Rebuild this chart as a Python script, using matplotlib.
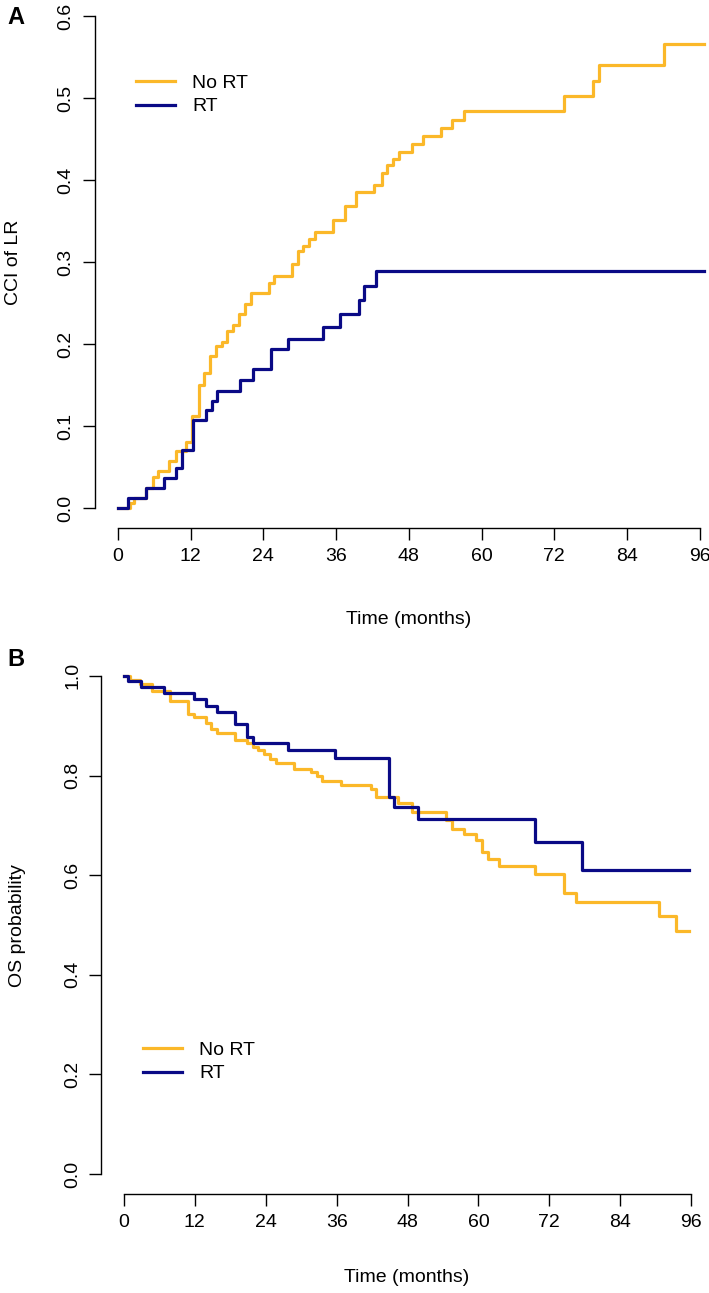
import numpy as np
import matplotlib
matplotlib.use("Agg")
import matplotlib.pyplot as plt

plt.rcParams['font.family'] = ['Liberation Sans', 'DejaVu Sans']

# panel A: cumulative incidence of local recurrence
a_nort_t = [0, 2.0, 2.7, 4.6, 5.7, 6.6, 8.5, 9.5, 11.3, 12.2, 13.3, 14.2, 15.2, 16.2,
            17.2, 18.0, 19.0, 19.9, 20.9, 21.9, 24.9, 25.8, 28.7, 29.7, 30.6, 31.5,
            32.5, 35.5, 37.4, 39.2, 42.2, 43.5, 44.4, 45.4, 46.4, 48.5, 50.3, 53.3,
            55.2, 57.1, 73.6, 78.4, 79.4, 90.1, 96.7]
a_nort_v = [0, 0.006, 0.012, 0.024, 0.038, 0.045, 0.057, 0.069, 0.081, 0.112, 0.150,
            0.165, 0.185, 0.197, 0.203, 0.216, 0.223, 0.236, 0.249, 0.262, 0.275,
            0.283, 0.297, 0.313, 0.320, 0.328, 0.336, 0.351, 0.368, 0.385, 0.394,
            0.408, 0.418, 0.426, 0.434, 0.444, 0.454, 0.463, 0.473, 0.484, 0.502,
            0.521, 0.540, 0.566, 0.566]
a_rt_t = [0, 1.7, 4.6, 7.6, 9.6, 10.5, 12.4, 14.5, 15.5, 16.4, 20.2, 22.2, 25.2,
          28.1, 33.8, 36.7, 39.7, 40.6, 42.6, 96.7]
a_rt_v = [0, 0.012, 0.024, 0.036, 0.049, 0.071, 0.107, 0.119, 0.131, 0.143, 0.156,
          0.169, 0.194, 0.206, 0.221, 0.236, 0.254, 0.271, 0.289, 0.289]

# panel B: overall survival
b_nort_t = [0, 1.0, 2.7, 4.7, 7.8, 10.9, 11.9, 13.9, 14.8, 15.8, 18.8, 20.8, 21.8,
            22.7, 23.7, 24.7, 25.7, 28.7, 31.6, 32.6, 33.6, 36.7, 41.8, 42.7, 46.4,
            48.7, 54.6, 55.5, 57.5, 59.6, 60.6, 61.6, 63.5, 69.6, 74.5, 76.5, 90.5,
            93.5, 95.7]
b_nort_v = [1.0, 0.991, 0.983, 0.970, 0.949, 0.923, 0.917, 0.905, 0.893, 0.885, 0.871,
            0.865, 0.858, 0.851, 0.843, 0.833, 0.825, 0.813, 0.807, 0.800, 0.790,
            0.782, 0.773, 0.757, 0.745, 0.727, 0.710, 0.693, 0.683, 0.670, 0.647,
            0.632, 0.618, 0.602, 0.565, 0.547, 0.518, 0.488, 0.488]
b_rt_t = [0, 0.7, 2.8, 6.8, 11.9, 13.9, 15.8, 18.8, 20.8, 21.8, 27.8, 35.8, 44.8,
          45.7, 49.7, 69.6, 77.6, 95.7]
b_rt_v = [1.0, 0.989, 0.977, 0.965, 0.953, 0.940, 0.928, 0.903, 0.877, 0.865, 0.851,
          0.835, 0.757, 0.737, 0.713, 0.667, 0.611, 0.611]

x_ticks = [0, 12, 24, 36, 48, 60, 72, 84, 96]
a_yticks = [0.0, 0.1, 0.2, 0.3, 0.4, 0.5, 0.6]
b_yticks = [0.0, 0.2, 0.4, 0.6, 0.8, 1.0]
labels = ['No RT', 'RT']

yellow = '#FBB829'
navy = '#0A0A86'

W, H = 709, 1293
fig = plt.figure(figsize=(W / 100, H / 100), dpi=100)


def rect(left, right, top, bottom):
    return [left / W, 1 - bottom / H, (right - left) / W, (bottom - top) / H]


def style(ax, yticks, ymax):
    for s in ['top', 'right']:
        ax.spines[s].set_visible(False)
    ax.spines['left'].set_bounds(0, ymax)
    ax.spines['bottom'].set_bounds(0, 96)
    for s in ['left', 'bottom']:
        ax.spines[s].set_linewidth(1.0)
    ax.set_xticks(x_ticks)
    ax.set_yticks(yticks)
    ax.set_yticklabels([f'{v:.1f}' for v in yticks], rotation=90, va='center')
    ax.tick_params(direction='out', length=8.5, width=1.0, labelsize=14, pad=6)
    ax.set_xlim(-3.84, 99.84)
    ax.set_ylim(-0.04 * ymax, 1.04 * ymax)


# A
ax1 = fig.add_axes(rect(94.7, 723, -3.7, 527.7))
ax1.step(a_nort_t, a_nort_v, where='post', color=yellow, lw=2.3, label=labels[0])
ax1.step(a_rt_t, a_rt_v, where='post', color=navy, lw=2.3, label=labels[1])
style(ax1, a_yticks, 0.6)
ax1.legend(loc='upper left', bbox_to_anchor=(136 / W, 1 - 74 / H),
           bbox_transform=fig.transFigure, frameon=False, fontsize=14,
           handlelength=2.0, handletextpad=0.9, labelspacing=0.32,
           borderpad=0, borderaxespad=0)
fig.text(409 / W, 1 - 620 / H, 'Time (months)', ha='center', va='center', fontsize=14)
fig.text(13 / W, 1 - 262 / H, 'CCI of LR', ha='center', va='center', rotation=90, fontsize=14)
fig.text(16 / W, 1 - 18 / H, 'A', ha='center', va='center', fontsize=17, fontweight='bold')

# B
ax2 = fig.add_axes(rect(101.3, 713.7, 656, 1194))
ax2.step(b_nort_t, b_nort_v, where='post', color=yellow, lw=2.3, label=labels[0])
ax2.step(b_rt_t, b_rt_v, where='post', color=navy, lw=2.3, label=labels[1])
style(ax2, b_yticks, 1.0)
ax2.legend(loc='upper left', bbox_to_anchor=(143 / W, 1 - 1041 / H),
           bbox_transform=fig.transFigure, frameon=False, fontsize=14,
           handlelength=2.0, handletextpad=0.9, labelspacing=0.32,
           borderpad=0, borderaxespad=0)
fig.text(407 / W, 1 - 1277 / H, 'Time (months)', ha='center', va='center', fontsize=14)
fig.text(18 / W, 1 - 926 / H, 'OS probability', ha='center', va='center', rotation=90, fontsize=14)
fig.text(16 / W, 1 - 660 / H, 'B', ha='center', va='center', fontsize=17, fontweight='bold')

fig.savefig('out.png', dpi=100)
